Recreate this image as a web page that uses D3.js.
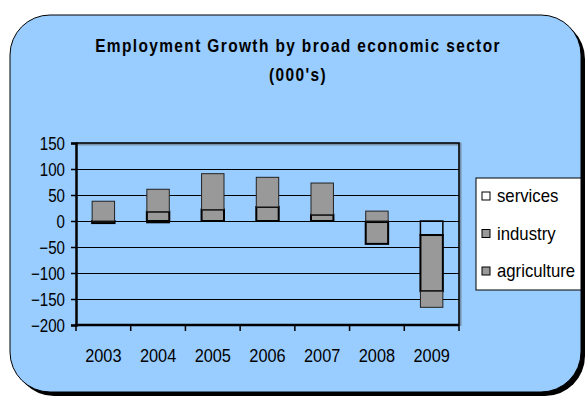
<!DOCTYPE html>
<html>
<head>
<meta charset="utf-8">
<script src="https://cdn.jsdelivr.net/npm/d3@7"></script>
<style>
  body { margin: 0; background: #fff; }
  svg { display: block; }
  text { font-family: 'Liberation Sans', Arial, sans-serif; fill: #000; }
  .squeeze { transform-box: fill-box; }
</style>
</head>
<body>
<script>
const years = ['2003', '2004', '2005', '2006', '2007', '2008', '2009']
const services = [0, -3, 0, 0, 0, -2, -27]
const industry = [-4, 18, 22, 27, 12, -42, -108]
const agriculture = [38, 43, 69, 57, 61, 19, -31]
const yTicks = [150, 100, 50, 0, -50, -100, -150, -200]
const seriesNames = ['services', 'industry', 'agriculture']

const W = 588, H = 399
const plot = { left: 76, right: 459, top: 143, bottom: 325 }

const rows = years.map((y, i) => ({
	year: y, services: services[i], industry: industry[i], agriculture: agriculture[i]
}))

const stacked = d3.stack()
	.keys(seriesNames)
	.order(d3.stackOrderNone)
	.offset(d3.stackOffsetDiverging)(rows)

const x = d3.scaleBand()
	.domain(years)
	.range([plot.left, plot.right])
	.paddingInner(0.59)
	.paddingOuter(0.295)

const y = d3.scaleLinear()
	.domain([-200, 150])
	.range([plot.bottom, plot.top])

const style = {
	services: { fill: 'none', stroke: '#000', sw: 1.5 },
	industry: { fill: '#999999', stroke: '#000', sw: 2 },
	agriculture: { fill: '#999999', stroke: '#222', sw: 1 }
}

// condensed look of the original text
const squeeze = (sel, k, origin) => sel
	.attr('class', 'squeeze')
	.style('transform-origin', origin)
	.style('transform', `scaleX(${k})`)

const svg = d3.select('body').append('svg')
	.attr('width', W)
	.attr('height', H)

// outer frame with shadow
svg.append('rect')
	.attr('x', 14).attr('y', 19)
	.attr('width', 571).attr('height', 377)
	.attr('rx', 40).attr('ry', 40)
	.attr('fill', '#000')
svg.append('rect')
	.attr('x', 10).attr('y', 15)
	.attr('width', 571).attr('height', 377)
	.attr('rx', 40).attr('ry', 40)
	.attr('fill', '#99ccff')
	.attr('stroke', '#000')
	.attr('stroke-width', 1)

svg.append('text')
	.attr('x', 298).attr('y', 52)
	.attr('text-anchor', 'middle')
	.style('font-size', '18px')
	.style('font-weight', 'bold')
	.style('letter-spacing', '1.6px')
	.text('Employment Growth by broad economic sector')
	.call(squeeze, 0.86, 'center')
svg.append('text')
	.attr('x', 298).attr('y', 81)
	.attr('text-anchor', 'middle')
	.style('font-size', '18px')
	.style('font-weight', 'bold')
	.style('letter-spacing', '1.6px')
	.text("(000's)")
	.call(squeeze, 0.86, 'center')

// plot border top/right
svg.append('path')
	.attr('d', `M${plot.left},${plot.top}H${plot.right}V${plot.bottom}`)
	.attr('fill', 'none')
	.attr('stroke', '#555')
	.attr('stroke-width', 3)
	.attr('opacity', 0.5)
	.attr('transform', 'translate(1,1)')
svg.append('path')
	.attr('d', `M${plot.left},${plot.top}H${plot.right}V${plot.bottom}`)
	.attr('fill', 'none')
	.attr('stroke', '#000')
	.attr('stroke-width', 1.5)

// gridlines
svg.append('g')
	.selectAll('line')
	.data(yTicks.filter(d => d !== 150 && d !== -200))
	.join('line')
		.attr('x1', plot.left).attr('x2', plot.right)
		.attr('y1', d => Math.round(y(d)) + 0.5)
		.attr('y2', d => Math.round(y(d)) + 0.5)
		.attr('stroke', '#000')
		.attr('stroke-width', 1)

// bars
const layer = svg.append('g')
	.selectAll('g')
	.data(stacked)
	.join('g')

layer.selectAll('rect')
	.data(s => s.map(d => ({ key: s.key, d })))
	.join('rect')
		.attr('x', r => x(r.d.data.year))
		.attr('width', x.bandwidth())
		.attr('y', r => y(Math.max(r.d[0], r.d[1])))
		.attr('height', r => Math.abs(y(r.d[0]) - y(r.d[1])))
		.attr('fill', r => style[r.key].fill)
		.attr('stroke', r => style[r.key].stroke)
		.attr('stroke-width', r => style[r.key].sw)
		.attr('display', r => r.d[0] === r.d[1] ? 'none' : null)

// y axis
const yAxis = svg.append('g')
	.attr('transform', `translate(${plot.left},0)`)
	.call(d3.axisLeft(y).tickValues(yTicks).tickSize(5).tickPadding(6).tickFormat(d3.format('d')))
yAxis.select('.domain').attr('stroke-width', 2.5)
yAxis.selectAll('.tick line').attr('stroke-width', 1.5)
yAxis.selectAll('text')
	.style('font-family', "'Liberation Sans', Arial, sans-serif")
	.style('font-size', '18px')
	.attr('dy', '0.36em')
	.call(squeeze, 0.84, 'right center')

// x axis
const xAxis = svg.append('g')
	.attr('transform', `translate(0,${plot.bottom})`)
xAxis.append('line')
	.attr('x1', plot.left - 1).attr('x2', plot.right)
	.attr('y1', 0).attr('y2', 0)
	.attr('stroke', '#000').attr('stroke-width', 2.5)
xAxis.selectAll('.tk')
	.data(years.concat(['end']))
	.join('line')
		.attr('class', 'tk')
		.attr('x1', (d, i) => plot.left + i * x.step())
		.attr('x2', (d, i) => plot.left + i * x.step())
		.attr('y1', 0).attr('y2', 6)
		.attr('stroke', '#000').attr('stroke-width', 1.5)
xAxis.selectAll('text')
	.data(years)
	.join('text')
		.attr('x', d => x(d) + x.bandwidth() / 2)
		.attr('y', 37)
		.attr('text-anchor', 'middle')
		.style('font-size', '19px')
		.text(d => d)
		.call(squeeze, 0.86, 'center')

// legend
const lg = svg.append('g').attr('transform', 'translate(476,178)')
lg.append('rect')
	.attr('width', 105).attr('height', 112)
	.attr('fill', '#fff')
	.attr('stroke', '#000')
	.attr('stroke-width', 1)
const legendFill = { services: '#fff', industry: '#999999', agriculture: '#999999' }
const item = lg.selectAll('.item')
	.data(seriesNames)
	.join('g')
		.attr('class', 'item')
		.attr('transform', (d, i) => `translate(6,${14 + i * 37.5})`)
item.append('rect')
	.attr('width', 8).attr('height', 8)
	.attr('fill', d => legendFill[d])
	.attr('stroke', '#000')
	.attr('stroke-width', 1)
item.append('text')
	.attr('x', 15).attr('y', 10)
	.style('font-size', '18px')
	.text(d => d)
	.call(squeeze, 0.93, 'left center')
</script>
</body>
</html>
